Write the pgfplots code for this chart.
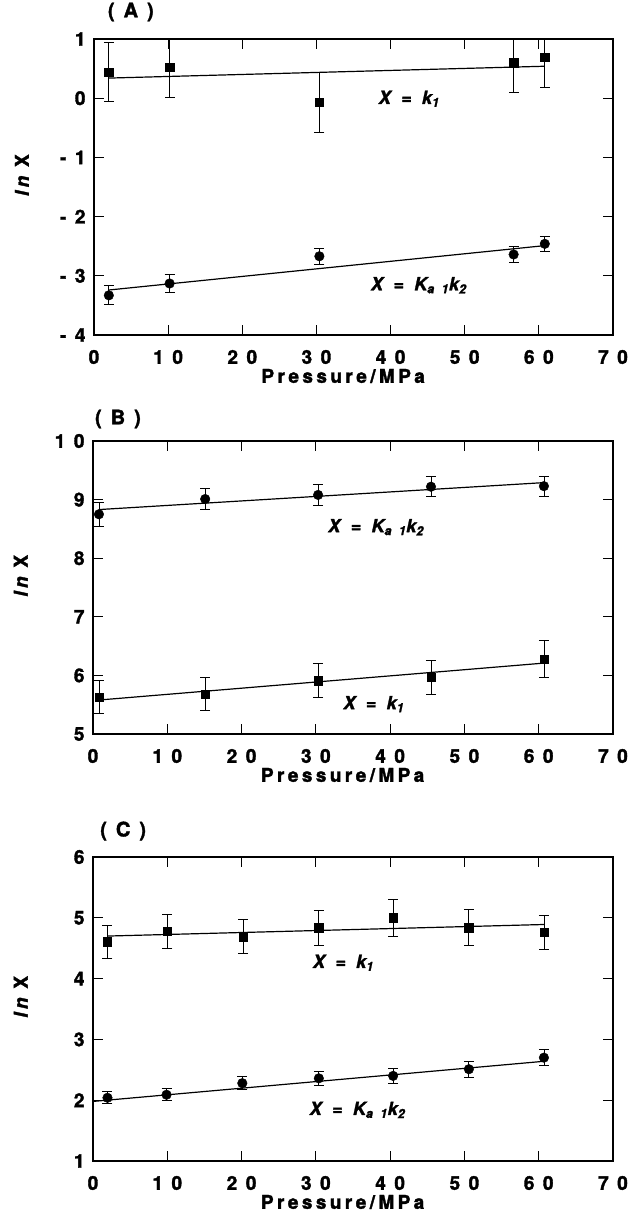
\documentclass[border=0pt]{standalone}
\usepackage{fontspec}
\setmainfont{TeX Gyre Heros}
\newfontfamily\spf[LetterSpace=18, FakeBold=1.8]{TeX Gyre Heros}
\newfontfamily\tkf[LetterSpace=45, FakeBold=1.8]{TeX Gyre Heros}
\newfontfamily\anf[LetterSpace=30, FakeBold=1.5]{TeX Gyre Heros}
\usepackage{pgfplots}
\pgfplotsset{compat=1.18}
\newcommand{\kone}{{\anf\bfseries\itshape\fontsize{18}{20}\selectfont X = k\textsubscript{1}}}
\newcommand{\ktwo}{{\anf\bfseries\itshape\fontsize{18}{20}\selectfont X = K\textsubscript{a 1}k\textsubscript{2}}}
\pgfplotsset{
  every axis/.append style={
    scale only axis, xmin=0, xmax=70, xtick={0,10,...,70},
    axis line style={line width=1.3pt},
    major tick length=10pt,
    every tick/.style={line width=0.9pt, black},
    /pgf/number format/assume math mode=true,
    tick label style={font=\tkf\bfseries\fontsize{19}{19}\selectfont},
    x tick label style={anchor=center, yshift=-22pt},
    y tick label style={anchor=east, xshift=-5pt},
    xlabel={Pressure/MPa},
    xlabel style={font=\spf\bfseries\fontsize{19}{19}\selectfont, at={(axis description cs:0.48,0)}, anchor=center, yshift=-41pt},
    ylabel={\itshape ln \upshape X},
    ylabel style={font=\spf\bfseries\fontsize{19}{19}\selectfont, at={(axis description cs:-0.139,0.54)}, anchor=center},
    title style={font=\tkf\bfseries\fontsize{20}{20}\selectfont, anchor=center},
  },
  sq/.style={black, only marks, mark=square*, mark size=4.2pt,
    error bars/.cd, y dir=both, y explicit,
    error bar style={line width=0.8pt, black},
    error mark options={rotate=90, mark size=5pt, line width=0.8pt, black}},
  ci/.style={black, only marks, mark=*, mark size=4.8pt,
    error bars/.cd, y dir=both, y explicit,
    error bar style={line width=0.8pt, black},
    error mark options={rotate=90, mark size=5pt, line width=0.8pt, black}},
  fit/.style={black, line width=1.2pt, no marks},
}
\begin{document}
\begin{tikzpicture}
\useasboundingbox (0,0) rectangle (634pt,-1211pt);
% ---------------- (A)
\begin{axis}[at={(94pt,-39pt)}, anchor=north west, width=519pt, height=296pt,
  ymin=-4, ymax=1, ytick={-4,-3,...,1},
  title={(A)}, title style={at={(axis description cs:0.071,1)}, yshift=21pt}]
\addplot[sq] table[x=x, y=y, y error=e] {
x y e
2.0 0.44 0.50
10.2 0.52 0.50
30.4 -0.07 0.50
56.6 0.60 0.51
60.8 0.69 0.51
};
\addplot[fit] coordinates {(2.0,0.34) (60.8,0.54)};
\addplot[ci] table[x=x, y=y, y error=e] {
x y e
2.0 -3.33 0.16
10.2 -3.13 0.15
30.4 -2.67 0.14
56.6 -2.64 0.14
60.8 -2.46 0.13
};
\addplot[fit] coordinates {(2.0,-3.24) (60.8,-2.49)};
\node at (axis cs:42.5,-0.01) {\kone};
\node at (axis cs:43.8,-3.16) {\ktwo};
\end{axis}
% ---------------- (B)
\begin{axis}[at={(93pt,-441pt)}, anchor=north west, width=520pt, height=293pt,
  ymin=5, ymax=10, ytick={5,6,...,10},
  title={(B)}, title style={at={(axis description cs:0.048,1)}, yshift=16pt}]
\addplot[ci] table[x=x, y=y, y error=e] {
x y e
0.8 8.75 0.20
15.1 9.01 0.18
30.3 9.08 0.18
45.5 9.22 0.17
60.7 9.23 0.17
};
\addplot[fit] coordinates {(0.8,8.83) (60.7,9.29)};
\addplot[sq] table[x=x, y=y, y error=e] {
x y e
0.8 5.63 0.28
15.1 5.68 0.28
30.3 5.91 0.29
45.5 5.97 0.29
60.7 6.28 0.32
};
\addplot[fit] coordinates {(0.8,5.58) (60.7,6.21)};
\node at (axis cs:38.1,8.53) {\ktwo};
\node at (axis cs:37.8,5.51) {\kone};
\end{axis}
% ---------------- (C)
\begin{axis}[at={(93pt,-857pt)}, anchor=north west, width=520pt, height=304pt,
  ymin=1, ymax=6, ytick={1,2,...,6},
  title={(C)}, title style={at={(axis description cs:0.058,1)}, yshift=20pt}]
\addplot[sq] table[x=x, y=y, y error=e] {
x y e
1.95 4.61 0.27
10.0 4.78 0.28
20.2 4.69 0.28
30.4 4.84 0.29
40.4 5.00 0.30
50.6 4.84 0.30
60.7 4.76 0.28
};
\addplot[fit] coordinates {(2.0,4.70) (60.7,4.89)};
\addplot[ci] table[x=x, y=y, y error=e] {
x y e
1.95 2.04 0.10
9.9 2.09 0.10
20.1 2.28 0.11
30.4 2.36 0.12
40.4 2.40 0.12
50.6 2.51 0.13
60.7 2.70 0.13
};
\addplot[fit] coordinates {(0,1.98) (60.7,2.64)};
\node at (axis cs:33.7,4.26) {\kone};
\node at (axis cs:35.6,1.84) {\ktwo};
\end{axis}
\end{tikzpicture}
\end{document}
